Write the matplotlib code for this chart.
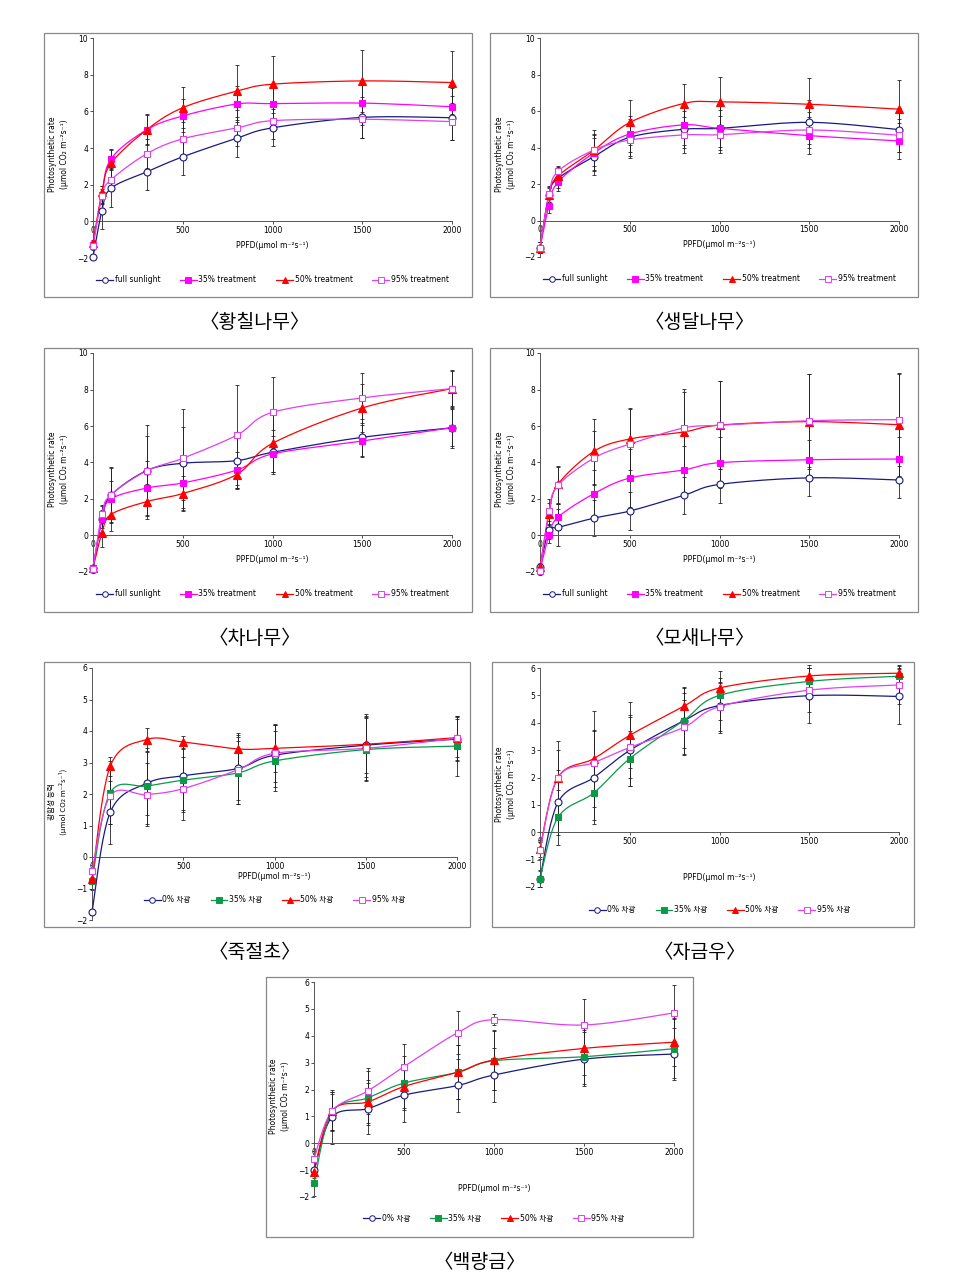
import numpy as np
import matplotlib
matplotlib.use("Agg")
import matplotlib.pyplot as plt
from matplotlib.lines import Line2D
from matplotlib.patches import Rectangle

plt.rcParams['font.family'] = ['DejaVu Sans', 'Noto Sans CJK KR']

W, H = 977, 1284

# ---- data ----
ppfd_a = [0, 50, 100, 300, 500, 800, 1000, 1500, 2000]
ppfd_b = [0, 100, 300, 500, 800, 1000, 1500, 2000]

labels_en = ['full sunlight', '35% treatment', '50% treatment', '95% treatment']
labels_kr = ['0% 차광', '35% 차광', '50% 차광', '95% 차광']

# 황칠나무
p1_full = [-1.95, 0.58, 1.8, 2.7, 3.52, 4.53, 5.1, 5.67, 5.65]
p1_35 = [-1.3, 1.45, 3.4, 5.0, 5.75, 6.4, 6.42, 6.45, 6.25]
p1_50 = [-1.2, 1.6, 3.16, 5.0, 6.2, 7.1, 7.48, 7.66, 7.57]
p1_95 = [-1.37, 1.39, 2.26, 3.69, 4.5, 5.09, 5.49, 5.57, 5.44]
p1_err = [[0.1, 1.0, 1.0, 1.0, 1.0, 1.0, 1.0, 1.1, 1.2],
          [0.2, 0.5, 0.5, 0.8, 0.9, 1.0, 1.1, 1.2, 1.0],
          [0.2, 0.3, 0.8, 0.85, 1.1, 1.4, 1.55, 1.7, 1.7],
          [0.2, 0.4, 0.6, 0.8, 0.9, 1.0, 1.0, 1.0, 1.0]]

# 생달나무
p2_full = [-1.5, 1.4, 2.3, 3.5, 4.56, 5.0, 5.05, 5.38, 4.98]
p2_35 = [-1.5, 0.82, 2.1, 3.7, 4.74, 5.24, 5.05, 4.65, 4.36]
p2_50 = [-1.5, 1.4, 2.43, 3.85, 5.37, 6.41, 6.5, 6.37, 6.1]
p2_95 = [-1.48, 1.43, 2.69, 3.86, 4.41, 4.69, 4.7, 4.96, 4.67]
p2_err = [[0.3, 0.5, 0.5, 1.0, 1.0, 1.0, 1.0, 1.2, 1.2],
          [0.3, 0.4, 0.5, 1.0, 1.0, 1.1, 1.2, 1.0, 1.0],
          [0.3, 0.4, 0.5, 1.1, 1.25, 1.05, 1.35, 1.45, 1.6],
          [0.3, 0.4, 0.3, 0.9, 1.0, 1.0, 1.0, 1.0, 0.9]]

# 차나무
p3_full = [-1.8, 0.9, 2.2, 3.56, 3.96, 4.1, 4.56, 5.38, 5.9]
p3_35 = [-1.8, 0.91, 2.0, 2.6, 2.88, 3.58, 4.47, 5.18, 5.91]
p3_50 = [-1.8, 0.15, 1.15, 1.86, 2.3, 3.34, 5.05, 6.99, 8.05]
p3_95 = [-1.85, 1.19, 2.23, 3.55, 4.23, 5.49, 6.75, 7.54, 8.05]
p3_err = [[0.2, 0.7, 1.5, 2.5, 2.0, 1.5, 1.2, 1.0, 1.1],
          [0.2, 0.5, 1.0, 1.5, 1.5, 1.0, 1.0, 0.9, 1.0],
          [0.2, 0.8, 0.9, 0.95, 0.95, 0.8, 1.55, 1.3, 1.0],
          [0.2, 0.5, 1.5, 1.9, 2.7, 2.75, 1.95, 1.35, 0.95]]

# 모새나무
p4_full = [-1.7, 0.3, 0.44, 0.95, 1.34, 2.2, 2.8, 3.16, 3.04]
p4_35 = [-1.9, 0.0, 1.0, 2.29, 3.15, 3.59, 3.99, 4.15, 4.19]
p4_50 = [-1.75, 1.2, 2.8, 4.61, 5.29, 5.67, 6.05, 6.24, 6.07]
p4_95 = [-1.96, 1.32, 2.74, 4.24, 5.01, 5.89, 6.04, 6.29, 6.35]
p4_err = [[0.2, 0.5, 1.0, 1.0, 1.05, 1.0, 1.0, 1.0, 1.0],
          [0.2, 0.4, 0.7, 1.3, 1.6, 1.3, 1.4, 1.1, 1.2],
          [0.2, 0.6, 1.0, 1.8, 1.7, 2.2, 2.4, 2.6, 2.8],
          [0.2, 0.7, 1.0, 1.5, 1.9, 2.15, 2.4, 2.55, 2.55]]

# 죽절초
p5_0 = [-1.75, 1.42, 2.34, 2.58, 2.81, 3.23, 3.55, 3.74]
p5_35 = [-0.75, 2.04, 2.25, 2.44, 2.67, 3.05, 3.41, 3.52]
p5_50 = [-0.7, 2.88, 3.73, 3.65, 3.43, 3.45, 3.58, 3.79]
p5_95 = [-0.45, 1.94, 1.98, 2.17, 2.77, 3.29, 3.45, 3.77]
p5_err = [[0.1, 1.0, 1.0, 1.1, 1.0, 1.0, 1.0, 0.7],
          [0.3, 1.0, 1.2, 1.0, 1.0, 0.95, 1.0, 0.95],
          [0.3, 0.3, 0.35, 0.2, 0.5, 0.75, 0.9, 0.6],
          [0.2, 0.9, 1.0, 1.0, 1.1, 0.9, 1.0, 0.7]]

# 자금우
p6_0 = [-1.7, 1.09, 2.0, 2.99, 4.07, 4.63, 4.99, 4.96]
p6_35 = [-1.69, 0.54, 1.44, 2.69, 4.08, 5.0, 5.51, 5.7]
p6_50 = [-0.6, 2.0, 2.69, 3.54, 4.6, 5.27, 5.71, 5.81]
p6_95 = [-0.66, 2.0, 2.54, 3.1, 3.83, 4.59, 5.19, 5.38]
p6_err = [[0.3, 1.2, 1.7, 1.3, 1.2, 1.0, 1.0, 1.0],
          [0.3, 1.0, 1.0, 1.0, 1.0, 0.9, 0.6, 0.4],
          [0.3, 1.0, 1.75, 1.2, 0.7, 0.2, 0.3, 0.2],
          [0.3, 1.35, 1.2, 1.1, 1.0, 0.9, 0.8, 0.7]]

# 백량금
p7_0 = [-1.0, 0.98, 1.29, 1.79, 2.15, 2.54, 3.13, 3.32]
p7_35 = [-1.48, 1.15, 1.69, 2.24, 2.64, 3.07, 3.22, 3.52]
p7_50 = [-1.08, 1.2, 1.54, 2.11, 2.65, 3.1, 3.53, 3.76]
p7_95 = [-0.57, 1.19, 1.95, 2.85, 4.12, 4.6, 4.4, 4.85]
p7_err = [[0.3, 1.0, 0.95, 1.0, 1.0, 1.0, 1.0, 0.95],
          [0.5, 0.7, 1.0, 1.0, 1.0, 1.1, 1.0, 1.1],
          [0.5, 0.7, 0.8, 0.8, 1.0, 1.1, 1.0, 0.9],
          [0.3, 0.7, 0.85, 0.85, 0.8, 0.2, 0.95, 1.05]]

NAVY = '#1a1a80'
MAG = '#ff00ff'
GREEN = '#0c9a48'
RED = '#ff0000'
VIOLET = '#e040f0'

style_en = [dict(color=NAVY, marker='o', mfc='white', mec=NAVY),
            dict(color=MAG, marker='s', mfc=MAG, mec=MAG),
            dict(color=RED, marker='^', mfc=RED, mec=RED),
            dict(color=VIOLET, marker='s', mfc='white', mec=VIOLET)]
style_kr = [dict(color=NAVY, marker='o', mfc='white', mec=NAVY),
            dict(color=GREEN, marker='s', mfc=GREEN, mec=GREEN),
            dict(color=RED, marker='^', mfc=RED, mec=RED),
            dict(color=VIOLET, marker='s', mfc='white', mec=VIOLET)]


def smooth(xs, ys, xr, yr, n=24):
    # bezier through the points in normalised space (like a spreadsheet smooth line)
    p = np.column_stack([np.array(xs) / xr, np.array(ys) / yr])
    out = [p[0]]
    t = np.linspace(0, 1, n)[1:, None]
    for i in range(len(p) - 1):
        p0 = p[max(i - 1, 0)]
        p1, p2 = p[i], p[i + 1]
        p3 = p[min(i + 2, len(p) - 1)]
        c1 = p1 + (p2 - p0) / 6
        c2 = p2 - (p3 - p1) / 6
        seg = ((1 - t) ** 3) * p1 + 3 * ((1 - t) ** 2) * t * c1 + 3 * (1 - t) * t ** 2 * c2 + t ** 3 * p2
        out.extend(seg)
    out = np.array(out)
    return out[:, 0] * xr, out[:, 1] * yr


fig = plt.figure(figsize=(W / 100, H / 100), dpi=100)


def box(x0, y0, x1, y1):
    fig.patches.append(Rectangle((x0 / W, 1 - y1 / H), (x1 - x0) / W, (y1 - y0) / H,
                                 transform=fig.transFigure, fill=False,
                                 edgecolor='#888888', linewidth=0.9))


def panel(rect, xs, series, errs, styles, labels, ymin, ymax, ystep,
          ylabel, xlab_y, leg_y, ylab_x=-0.068, ylab_fam=('DejaVu Sans', 'Noto Sans CJK KR')):
    x0, y0, x1, y1 = rect
    ax = fig.add_axes([x0 / W, 1 - y1 / H, (x1 - x0) / W, (y1 - y0) / H])
    ax.set_xlim(0, 2000)
    ax.set_ylim(ymin, ymax)
    for sp in ['top', 'right']:
        ax.spines[sp].set_visible(False)
    ax.spines['bottom'].set_position(('data', 0))
    ax.spines['left'].set_color('#555555')
    ax.spines['bottom'].set_color('#555555')
    ax.spines['left'].set_linewidth(0.7)
    ax.spines['bottom'].set_linewidth(0.7)
    ax.set_xticks([0, 500, 1000, 1500, 2000])
    ax.set_yticks(np.arange(ymin, ymax + 0.01, ystep))
    ax.tick_params(labelsize=5.5, length=2, width=0.6, pad=1.5, colors='#333333',
                   labelcolor='black')
    ax.patch.set_alpha(0)
    handles = []
    for ys, er, st, lab in zip(series, errs, styles, labels):
        cx, cy = smooth(xs, ys, 2000, ymax - ymin)
        ax.plot(cx, cy, color=st['color'], lw=0.9, zorder=3, clip_on=False)
        eb = ax.errorbar(xs, ys, yerr=er, fmt='none', ecolor='#222222', elinewidth=0.6,
                         capsize=1.2, capthick=0.6, zorder=2)
        for art in eb.get_children():
            art.set_clip_on(False)
        ax.plot(xs, ys, linestyle='none', marker=st['marker'], ms=5 if st['marker'] != '^' else 5.5,
                mfc=st['mfc'], mec=st['mec'], mew=0.8, zorder=4, clip_on=False)
        handles.append(Line2D([], [], color=st['color'], lw=0.9, marker=st['marker'], ms=4,
                              mfc=st['mfc'], mec=st['mec'], mew=0.7, label=lab))
    ax.set_ylabel(ylabel, fontsize=5.5, linespacing=1.4, family=list(ylab_fam))
    ax.yaxis.set_label_coords(ylab_x, 0.47)
    ax.text(1000, xlab_y, 'PPFD(μmol m⁻²s⁻¹)', fontsize=5.5, ha='center', va='center')
    ax.legend(handles=handles, loc='center', bbox_to_anchor=(0.5, leg_y), ncol=4,
              frameon=False, handlelength=2.2, handletextpad=0.2,
              columnspacing=2.6, prop={'family': ['DejaVu Sans', 'Noto Sans CJK KR'], 'size': 5.5})
    return ax


ylab_en = 'Photosynthetic rate\n(μmol CO₂ m⁻²s⁻¹)'
ylab_kr = '광합성 능력\n(μmol CO₂ m⁻²s⁻¹)'

box(44, 33, 472, 297)
panel((93, 38, 452, 258), ppfd_a, [p1_full, p1_35, p1_50, p1_95], p1_err, style_en, labels_en,
      -2, 10, 2, ylab_en, -1.3, -0.1)
box(490, 33, 918, 297)
panel((540, 38, 899, 257), ppfd_a, [p2_full, p2_35, p2_50, p2_95], p2_err, style_en, labels_en,
      -2, 10, 2, ylab_en, -1.3, -0.1)
box(44, 348, 472, 612)
panel((93, 353, 452, 572), ppfd_a, [p3_full, p3_35, p3_50, p3_95], p3_err, style_en, labels_en,
      -2, 10, 2, ylab_en, -1.3, -0.1)
box(490, 348, 918, 612)
panel((540, 353, 899, 572), ppfd_a, [p4_full, p4_35, p4_50, p4_95], p4_err, style_en, labels_en,
      -2, 10, 2, ylab_en, -1.3, -0.1)
box(44, 662, 470, 927)
panel((92, 668, 457, 920), ppfd_b, [p5_0, p5_35, p5_50, p5_95], p5_err, style_kr, labels_kr,
      -2, 6, 1, ylab_kr, -0.62, 0.08, ylab_fam=('Noto Sans CJK KR', 'DejaVu Sans'))
box(492, 662, 914, 927)
panel((540, 668, 899, 887), ppfd_b, [p6_0, p6_35, p6_50, p6_95], p6_err, style_kr, labels_kr,
      -2, 6, 1, ylab_en, -1.67, -0.105)
box(266, 977, 693, 1237)
panel((314, 982, 674, 1197), ppfd_b, [p7_0, p7_35, p7_50, p7_95], p7_err, style_kr, labels_kr,
      -2, 6, 1, ylab_en, -1.69, -0.098)

captions = ['〈황칠나무〉', '〈생달나무〉', '〈차나무〉', '〈모새나무〉', '〈죽절초〉', '〈자금우〉', '〈백량금〉']
cap_pos = [(255, 323), (700, 323), (255, 638), (700, 638), (255, 953), (700, 953), (480, 1262)]
for txt, (cx, cy) in zip(captions, cap_pos):
    fig.text(cx / W, 1 - cy / H, txt, ha='center', va='center', fontsize=14,
             family=['Noto Sans CJK KR', 'DejaVu Sans'])

fig.savefig('out.png', dpi=100)
